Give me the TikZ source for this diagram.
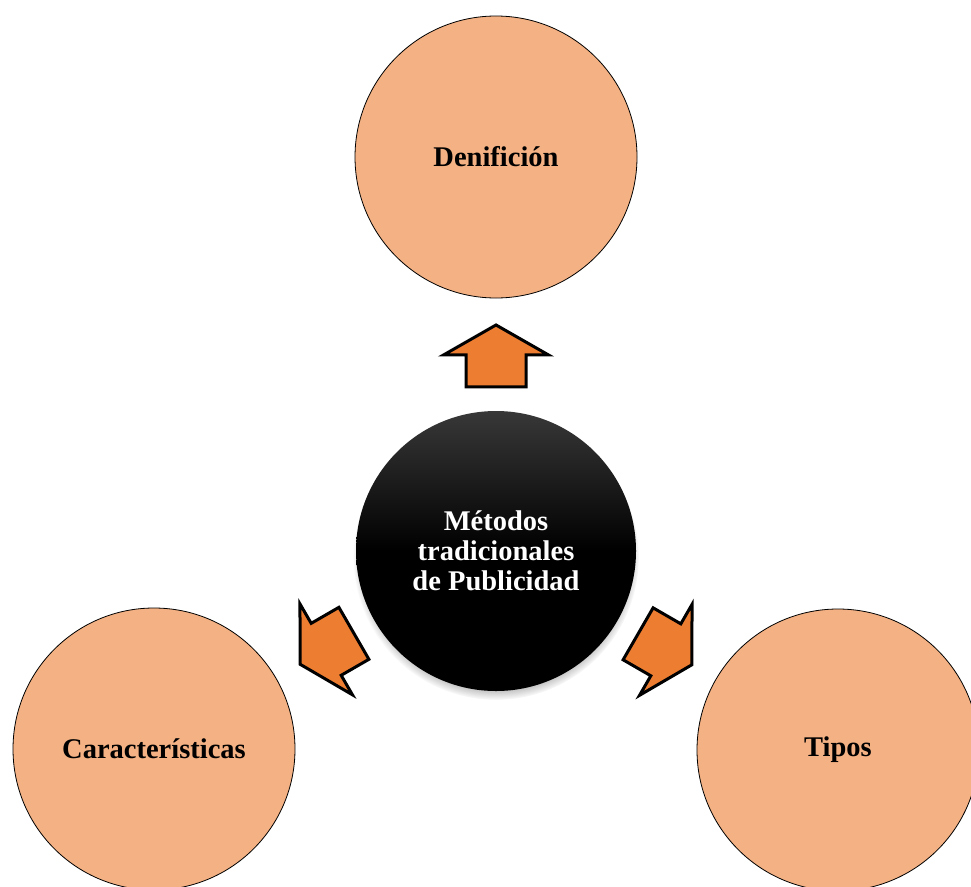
\documentclass[tikz,border=0pt]{standalone}
\usepackage{fontspec}
\setmainfont{Liberation Serif}
\usepackage{tikz}
\usetikzlibrary{calc,shadows}
\definecolor{petalfill}{HTML}{F4B183}
\definecolor{arrowfill}{HTML}{ED7D31}
\tikzset{
  petal/.style={circle, draw, line width=0.8pt, fill=petalfill, minimum size=282pt, inner sep=0pt,
    font=\bfseries\fontsize{28.5}{30}\selectfont},
  hub/.style={circle, minimum size=280pt, inner sep=0pt, top color=black!78, bottom color=black,
    middle color=black, circular drop shadow={shadow xshift=0pt, shadow yshift=-6pt, shadow scale=1.02},
    text=white, align=center, font=\bfseries\fontsize{28.5}{30}\selectfont},
  pics/blockarrow/.style={code={
    \draw[line width=3pt, line join=miter, fill=arrowfill]
      (0,-31) -- (52.5,-1) -- (30,-1) -- (30,31) -- (-30,31) -- (-30,-1) -- (-52.5,-1) -- cycle;
  }},
  every picture/.style={line cap=round, line join=round}
}

\begin{document}
\begin{tikzpicture}[x=1pt,y=-1pt]
  \useasboundingbox (0,0) rectangle (971,886);
  \clip (0,0) rectangle (971,886);

  % outer circles
  \node[petal] (def) at (496,157) {Denifición};
  \node[petal] (car) at (154,749) {Características};
  \node[petal] (tip) at (838,750) {Tipos};

  % centre
  \node[hub] (hub) at (496,551) {Métodos\\tradicionales\\de Publicidad};

  % arrows
  \pic at ($(hub.center)!0.495!(def.center)$) {blockarrow};
  \pic[rotate=120] at ($(hub.center)!0.494!(car.center)$) {blockarrow};
  \pic[rotate=-120] at ($(hub.center)!0.494!(tip.center)$) {blockarrow};
\end{tikzpicture}
\end{document}
